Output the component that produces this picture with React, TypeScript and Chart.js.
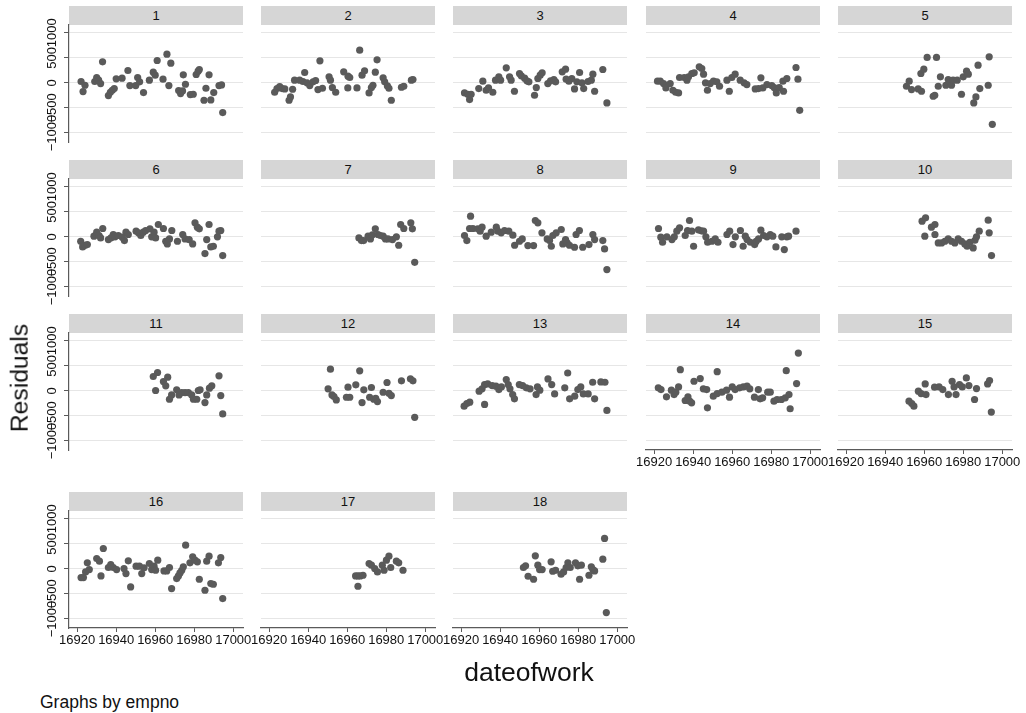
import React, { useEffect, useRef } from "react";
import { Chart, registerables } from "chart.js";

Chart.register(...registerables);

// ---------- data ----------
const panelLabels = ["1", "2", "3", "4", "5", "6", "7", "8", "9", "10", "11", "12", "13", "14", "15", "16", "17", "18"];
const xTicks = [16920, 16940, 16960, 16980, 17000];
const yTicks = [-1000, -500, 0, 500, 1000];
const xMin = 16915.8;
const xMax = 17005;
const yMin = -1180;
const yMax = 1155;
const xTitle = "dateofwork";
const yTitle = "Residuals";
const note = "Graphs by empno";

const emp1 = [[16922,27],[16923,-173],[16924,-47],[16929,27],[16930,107],[16931,53],[16932,-13],[16933,420],[16936,-253],[16937,-187],[16938,-147],[16939,-113],[16940,80],[16943,93],[16946,247],[16947,-53],[16950,-53],[16951,107],[16952,20],[16954,-193],[16957,53],[16959,213],[16960,153],[16961,447],[16964,73],[16966,573],[16967,-53],[16968,393],[16972,-153],[16973,-213],[16974,-160],[16974.4,160],[16975.5,-27],[16978,-233],[16979.5,-227],[16981,167],[16982,233],[16982.6,267],[16985,-347],[16986,-107],[16987.6,160],[16988.5,-340],[16990,-193],[16992.7,-53],[16994,-40],[16994.6,-593]];
const emp2 = [[16922.8,-187],[16924,-113],[16925.4,-73],[16926.6,-113],[16928,-120],[16930.2,-347],[16930.9,-280],[16932,-127],[16933,53],[16935.6,53],[16937.3,27],[16938.2,207],[16939.4,0],[16940.8,-53],[16942.5,20],[16943.8,47],[16945,-133],[16946,440],[16947.3,-107],[16950.7,120],[16951.4,53],[16952.4,-93],[16954.1,-187],[16958.2,220],[16960.4,133],[16961.3,107],[16960.3,-100],[16965,-100],[16966.4,653],[16967.6,153],[16968.9,240],[16971.2,-200],[16972.4,-93],[16973.2,-47],[16974.4,213],[16975.3,460],[16978.4,100],[16979.2,20],[16980.6,-60],[16981.4,-107],[16982.6,-347],[16987.8,-87],[16989,-67],[16992.9,53],[16993.7,67]];
const emp3 = [[16921.7,-200],[16923.4,-227],[16924.3,-333],[16925.1,-227],[16929,-113],[16931.1,33],[16932.8,-147],[16934,-100],[16936.2,-187],[16937.6,53],[16939.3,120],[16940.2,53],[16943.1,300],[16944.8,120],[16945.6,53],[16947.3,-167],[16949.9,187],[16950.8,140],[16952.5,93],[16953.7,40],[16954.7,20],[16957.6,-247],[16958.5,-93],[16959.3,87],[16960.5,153],[16961.5,200],[16964.4,-13],[16965.8,40],[16967.5,67],[16968.4,20],[16971.8,220],[16973.5,273],[16973.8,73],[16975.2,33],[16976.7,87],[16978.1,-120],[16979.3,20],[16980.7,207],[16981.9,0],[16982.8,-113],[16985,27],[16986.7,53],[16987.5,173],[16988.4,-167],[16992.6,267],[16994.7,-400]];
const emp4 = [[16921.7,33],[16923.1,33],[16924.8,-13],[16926,-100],[16928.2,-13],[16929.6,-147],[16931,-187],[16932.5,-200],[16933,107],[16935.4,107],[16936.8,53],[16937.6,120],[16939.3,187],[16940.5,200],[16943.1,320],[16944.4,287],[16945.3,173],[16946.3,0],[16947.3,-147],[16948.7,-13],[16950.4,33],[16952.1,20],[16953.5,-67],[16957.3,53],[16958.5,-167],[16959.8,107],[16961.5,173],[16964.1,53],[16966.1,0],[16967.5,-33],[16971.8,-120],[16973.5,-113],[16974.7,100],[16975.7,-100],[16977.8,-33],[16980.3,-53],[16981.5,-93],[16982.6,-200],[16984.1,-93],[16986.3,-167],[16986,33],[16988,87],[16992.7,307],[16993.7,73],[16994.6,-547]];
const emp5 = [[16950.9,-67],[16952.3,33],[16953.5,-133],[16956.9,-120],[16958.6,-167],[16958.3,187],[16959.8,273],[16961.5,507],[16964.6,-267],[16965.4,-247],[16966.3,507],[16967.2,-67],[16968.3,120],[16971.1,-47],[16972.3,67],[16973.1,20],[16974,-47],[16974.8,53],[16976.9,53],[16979.1,-227],[16980,120],[16981.7,233],[16982.6,173],[16985.4,-400],[16986.5,-280],[16987.6,353],[16988.5,-113],[16992.8,-47],[16993.3,520],[16994.9,-827]];
const emp6 = [[16921.8,-87],[16922.8,-200],[16924,-167],[16925.2,-153],[16928.6,13],[16930,93],[16931.2,27],[16932,-20],[16933.1,167],[16936,-53],[16937.3,-20],[16938.5,47],[16939.4,0],[16941.1,27],[16943.1,-7],[16944.2,-73],[16945,93],[16946.2,47],[16950.2,113],[16951.4,80],[16952.6,27],[16953.9,93],[16955.1,127],[16957.3,160],[16958.2,0],[16959.4,93],[16960.2,-20],[16961.6,247],[16964.2,167],[16965.4,-87],[16966.2,-140],[16967.3,-40],[16968.5,127],[16971.4,-87],[16974.1,47],[16975.3,-40],[16977.4,-53],[16979.2,-140],[16980.4,280],[16981.6,193],[16982.6,160],[16985.5,-333],[16986.4,-53],[16987.6,247],[16988.5,-200],[16989.8,-187],[16991.9,0],[16992.7,113],[16993.6,127],[16994.6,-373]];
const emp7 = [[16966,-20],[16967.3,-73],[16968.4,-73],[16970.7,13],[16971.9,-40],[16972.9,40],[16974.4,160],[16975.8,47],[16977,27],[16978.4,13],[16979.6,-40],[16980.9,-40],[16983.2,-53],[16985.2,0],[16986.4,-167],[16987.4,247],[16989,167],[16992.6,280],[16993.4,160],[16994.6,-507]];
const emp8 = [[16921.7,27],[16922.9,-73],[16924.3,167],[16924.8,413],[16926,167],[16928.5,160],[16929.7,113],[16930.7,193],[16932.8,13],[16935.4,93],[16938,193],[16938.8,113],[16940.5,80],[16942.2,127],[16944.4,113],[16946.5,33],[16947.4,-167],[16949.9,-87],[16951.3,-40],[16954.2,-173],[16957.1,-173],[16958,327],[16959.3,280],[16961.4,80],[16964.1,-40],[16965.3,-73],[16966.2,-187],[16967,27],[16968.7,80],[16971.3,147],[16972.1,-140],[16973.5,-53],[16974.3,-120],[16975.5,-167],[16978.1,-207],[16978.9,47],[16980.6,127],[16982.3,-207],[16985.5,-153],[16987.5,47],[16988.4,-53],[16992.6,-73],[16993.5,-240],[16994.7,-653]];
const emp9 = [[16922.2,167],[16923.4,-7],[16924.3,-107],[16926.5,0],[16929.1,-53],[16930.3,0],[16931.6,113],[16933,180],[16935.9,27],[16937.1,127],[16938.1,327],[16939.3,113],[16940.2,-187],[16942.7,140],[16944.1,120],[16945.3,113],[16946.5,0],[16947.4,-107],[16949.6,-87],[16951.3,-40],[16952.7,-107],[16957.3,47],[16958.7,113],[16960.4,-153],[16961.6,0],[16964.2,127],[16965.6,-187],[16966.7,13],[16967.6,-53],[16969.3,-107],[16971.5,-153],[16972.3,-87],[16973.5,-40],[16974.7,133],[16976.1,27],[16977.8,0],[16979.5,47],[16980.8,13],[16982.4,-200],[16985.4,0],[16986.7,-253],[16988,0],[16988.9,13],[16992.7,113]];
const emp10 = [[16958.9,313],[16960.7,380],[16960.3,13],[16963.7,193],[16965.5,247],[16965.5,47],[16967.2,-120],[16968.9,-120],[16970.6,-87],[16972.3,-40],[16974,-87],[16975.7,-120],[16977.4,-40],[16979.1,-87],[16980.8,-140],[16982,-187],[16983.4,-107],[16985.1,-220],[16986,-67],[16986.8,0],[16988.2,113],[16992.8,333],[16993.3,80],[16994.5,-373]];
const emp11 = [[16959,287],[16960.2,7],[16961.2,367],[16964.2,187],[16965.4,100],[16966.4,273],[16967.3,-167],[16968.4,-80],[16971,20],[16972.2,-80],[16973.6,-33],[16975.3,-33],[16977,-33],[16978.7,-80],[16979.6,-167],[16981.3,-167],[16982.1,7],[16983,20],[16985.5,-233],[16986.4,-80],[16987.8,53],[16989,100],[16992.7,300],[16993.6,-93],[16994.6,-460]];
const emp12 = [[16950.2,40],[16951.4,433],[16952.2,-80],[16953.2,-113],[16954.4,-180],[16959.6,-127],[16960.4,73],[16961.3,-127],[16964.4,120],[16966.4,400],[16967.6,-233],[16968.5,20],[16971.5,-127],[16972.4,67],[16973.6,-167],[16974.6,-147],[16975.5,-213],[16978.4,-27],[16980.4,167],[16981.4,-47],[16982.6,-93],[16987.8,200],[16992.4,240],[16993.7,200],[16994.6,-527]];
const emp13 = [[16921.5,-305],[16922.9,-252],[16924.4,-225],[16929.2,-7],[16930.7,40],[16932,126],[16932,-271],[16933.6,139],[16935.9,106],[16937.8,93],[16939.3,26],[16940.6,79],[16943.1,225],[16944.1,126],[16945,40],[16946.4,-73],[16947.3,-159],[16949.8,126],[16951.5,106],[16953.4,60],[16955.3,40],[16958.4,-73],[16959.1,79],[16960.3,13],[16964.5,238],[16966.4,126],[16967.9,-60],[16973.1,60],[16974.6,357],[16975.6,-159],[16978.2,-106],[16979.8,26],[16981.3,79],[16982.6,-60],[16985.1,-60],[16988.4,-159],[16987.4,172],[16991.6,179],[16993.7,172],[16994.7,-391]];
const emp14 = [[16922.1,60],[16923.5,26],[16926.3,-119],[16928.8,13],[16930.2,-73],[16931.1,-26],[16932.5,79],[16933.4,424],[16935.9,-192],[16937.3,-119],[16938.2,-205],[16939.2,-238],[16940.4,192],[16943.6,245],[16945.2,40],[16946.9,26],[16947.3,-338],[16950.3,-106],[16952.3,384],[16952.3,-53],[16954.7,-26],[16957.1,13],[16958.6,-126],[16960,79],[16961.5,26],[16963.8,60],[16965.7,79],[16967.6,93],[16969,40],[16971.4,-126],[16973.4,26],[16974.3,-159],[16975.6,-139],[16978.2,-26],[16979.5,-26],[16981.4,-205],[16983,-172],[16985.2,-172],[16987.2,-139],[16987.7,404],[16989.1,-73],[16989.7,-357],[16993,146],[16993.9,755]];
const emp15 = [[16952.2,-205],[16953.6,-252],[16954.7,-305],[16957,-7],[16958.4,-53],[16960.5,139],[16960.9,-73],[16965.3,73],[16967.6,79],[16969.5,26],[16972.4,-73],[16974.3,192],[16975.3,79],[16976.3,-73],[16978.1,126],[16979.5,79],[16981.6,258],[16982.9,106],[16985.8,-172],[16986.8,46],[16992.5,139],[16993.5,205],[16994.4,-424]];
const emp16 = [[16922,-173],[16923.2,-173],[16924.3,-60],[16925.2,120],[16926.2,-13],[16930,207],[16931.4,153],[16932.2,-140],[16933.4,407],[16936,27],[16937.2,87],[16938.5,27],[16940.2,-13],[16944,7],[16945,-93],[16946.2,160],[16947.4,-360],[16950.2,53],[16951.9,53],[16953.1,-93],[16954.3,20],[16957,107],[16958.2,-13],[16959.4,53],[16960.2,-27],[16961.3,173],[16964.5,-40],[16965.9,-40],[16967.3,27],[16968.4,-393],[16971,-193],[16971.9,-140],[16972.7,-80],[16973.6,-27],[16974.4,40],[16975.6,473],[16977.8,120],[16979.2,240],[16980.4,173],[16981.6,140],[16982.6,-207],[16985.5,-427],[16986.4,153],[16987.6,253],[16988.5,-293],[16989.8,-307],[16992.4,120],[16993.6,227],[16994.6,-593]];
const emp17 = [[16964.3,-140],[16965.5,-140],[16966.7,-140],[16968.1,-127],[16965.5,-347],[16971.2,107],[16972.4,73],[16974.1,7],[16975.5,-60],[16978,73],[16978.9,-27],[16980.1,173],[16981.4,253],[16982.3,27],[16985.2,153],[16986.4,120],[16988.6,-27]];
const emp18 = [[16951.9,27],[16953,60],[16954.3,-147],[16957.1,-207],[16958,260],[16959.3,73],[16960.2,-13],[16961.5,-13],[16966.1,140],[16966.9,-47],[16968.4,-27],[16971.2,-107],[16972.5,-60],[16973.8,27],[16974.7,120],[16975.9,27],[16978.6,120],[16979.8,60],[16980.7,-207],[16981.6,73],[16985.5,-127],[16986.7,40],[16987.5,-13],[16988.4,-40],[16992.6,193],[16993.5,607],[16994.4,-873]];

const panelData = [emp1, emp2, emp3, emp4, emp5, emp6, emp7, emp8, emp9, emp10, emp11, emp12, emp13, emp14, emp15, emp16, emp17, emp18];

// ---------- layout / style ----------
const FONT = "'Liberation Sans', Arial, Helvetica, sans-serif";
const COL_LEFT = [69, 261, 453, 646, 838];
const HEADER_TOP = [6, 160, 314, 492];
const PLOT_W = 174;
const PLOT_H = 117;
const HEADER_H = 19;
const AX_W = 55;
const AX_H = 30;
const PAD_T = 12;
const PAD_R = 24;
const POINT_C = "#5a5a5a";
const GRID_C = "#e6e6e6";
const AXIS_C = "#5a5a5a";
const HEADER_BG = "#d6d6d6";

const fmtY = (v: number) => (v < 0 ? "\u2212" + Math.abs(v) : String(v));

function Panel({ idx }: { idx: number }) {
  const ref = useRef<HTMLCanvasElement>(null);
  const col = idx % 5;
  const row = Math.floor(idx / 5);
  const showY = col === 0;
  const showX = idx >= 13;
  const plotLeft = COL_LEFT[col];
  const plotTop = HEADER_TOP[row] + HEADER_H;

  useEffect(() => {
    const pts = panelData[idx].map(([x, y]) => ({ x, y }));
    const chart = new Chart(ref.current as HTMLCanvasElement, {
      type: "scatter",
      data: {
        datasets: [
          {
            data: pts,
            backgroundColor: POINT_C,
            borderColor: POINT_C,
            pointRadius: 3.6,
            pointBorderWidth: 0,
          },
        ],
      },
      options: {
        animation: false,
        responsive: false,
        maintainAspectRatio: false,
        events: [],
        layout: { padding: { left: 0, top: PAD_T, right: PAD_R, bottom: 0 } },
        plugins: { legend: { display: false }, tooltip: { enabled: false } },
        scales: {
          x: {
            type: "linear",
            min: xMin,
            max: xMax,
            afterBuildTicks: (s: any) => {
              s.ticks = xTicks.map((v) => ({ value: v }));
            },
            afterFit: (s: any) => {
              s.height = AX_H;
            },
            grid: {
              display: showX,
              drawOnChartArea: false,
              drawTicks: true,
              tickLength: 4,
              tickColor: AXIS_C,
              tickWidth: 1,
            },
            border: { display: showX, color: AXIS_C, width: 1.2 },
            ticks: {
              display: showX,
              autoSkip: false,
              maxRotation: 0,
              minRotation: 0,
              padding: 1,
              color: "#111",
              font: { family: FONT, size: 13 },
              callback: (v: any) => String(v),
            },
          },
          y: {
            type: "linear",
            min: yMin,
            max: yMax,
            afterBuildTicks: (s: any) => {
              s.ticks = yTicks.map((v) => ({ value: v }));
            },
            afterFit: (s: any) => {
              s.width = AX_W;
            },
            grid: {
              display: true,
              drawOnChartArea: true,
              color: GRID_C,
              lineWidth: 1,
              drawTicks: showY,
              tickLength: 5,
              tickColor: AXIS_C,
              tickWidth: 1,
            },
            border: { display: showY, color: AXIS_C, width: 1.2 },
            ticks: {
              display: showY,
              autoSkip: false,
              minRotation: 90,
              maxRotation: 90,
              crossAlign: "center",
              padding: -7,
              color: "#111",
              font: { family: FONT, size: 13 },
              callback: (v: any) => fmtY(Number(v)),
            },
          },
        },
      },
    } as any);
    return () => chart.destroy();
  }, [idx]);

  const cw = AX_W + PLOT_W + PAD_R;
  const ch = PAD_T + PLOT_H + AX_H;
  return (
    <>
      <div
        style={{
          position: "absolute",
          left: plotLeft,
          top: HEADER_TOP[row],
          width: PLOT_W,
          height: HEADER_H,
          background: HEADER_BG,
          font: `13px ${FONT}`,
          lineHeight: `${HEADER_H}px`,
          textAlign: "center",
          color: "#111",
        }}
      >
        {panelLabels[idx]}
      </div>
      <canvas
        ref={ref}
        width={cw}
        height={ch}
        style={{
          position: "absolute",
          left: plotLeft - AX_W,
          top: plotTop - PAD_T,
          width: cw,
          height: ch,
        }}
      />
    </>
  );
}

export default function App() {
  return (
    <div
      style={{
        position: "absolute",
        left: 0,
        top: 0,
        width: 1026,
        height: 713,
        background: "#fff",
        overflow: "hidden",
        fontFamily: FONT,
      }}
    >
      {panelData.map((_, i) => (
        <Panel key={i} idx={i} />
      ))}
      <div
        style={{
          position: "absolute",
          left: 20,
          top: 378,
          transform: "translate(-50%, -50%) rotate(-90deg)",
          fontSize: 24.7,
          lineHeight: 1,
          whiteSpace: "nowrap",
          color: "#111",
        }}
      >
        {yTitle}
      </div>
      <div
        style={{
          position: "absolute",
          left: 529,
          top: 672,
          transform: "translate(-50%, -50%)",
          fontSize: 26.5,
          lineHeight: 1,
          whiteSpace: "nowrap",
          color: "#111",
        }}
      >
        {xTitle}
      </div>
      <div
        style={{
          position: "absolute",
          left: 40,
          top: 703,
          transform: "translate(0, -50%)",
          fontSize: 17.5,
          lineHeight: 1,
          whiteSpace: "nowrap",
          color: "#111",
        }}
      >
        {note}
      </div>
    </div>
  );
}
